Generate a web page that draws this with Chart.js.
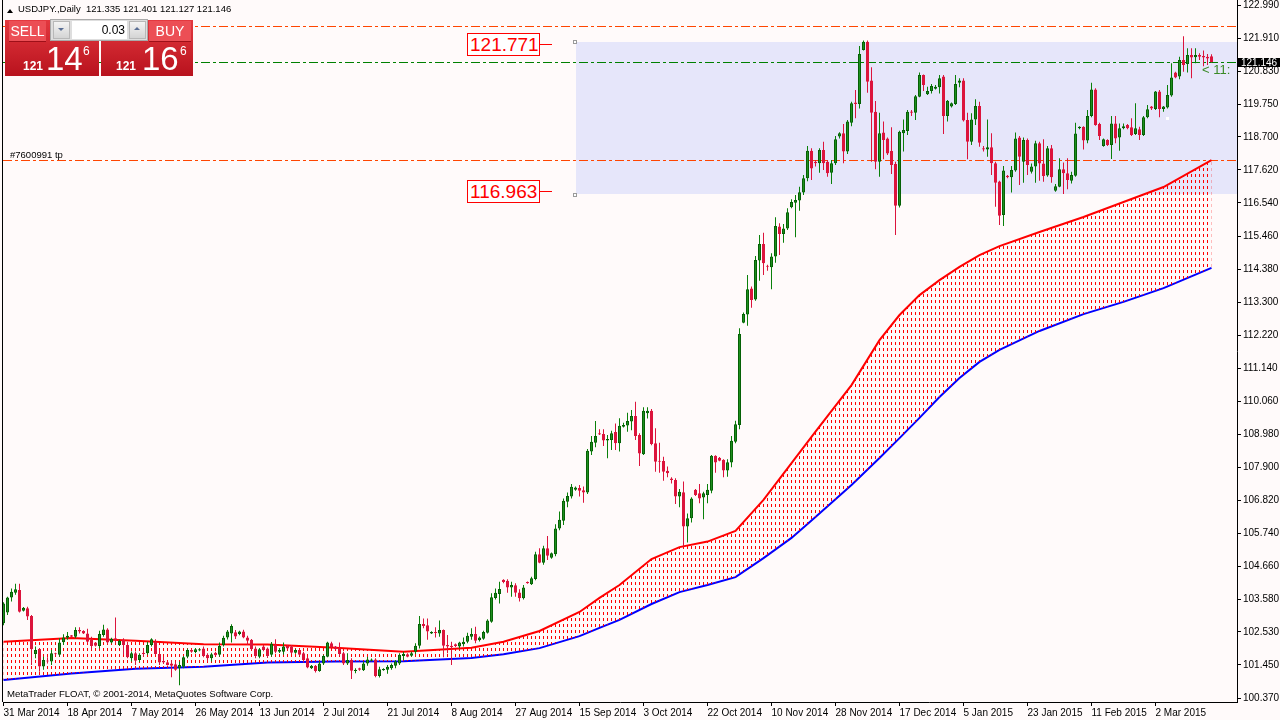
<!DOCTYPE html>
<html>
<head>
<meta charset="utf-8">
<title>USDJPY Daily</title>
<script src="https://cdn.jsdelivr.net/npm/chart.js@4.4.1/dist/chart.umd.min.js"></script>
<style>
  html, body { margin: 0; padding: 0; background: #fffafa; }
  #wrap { position: relative; width: 1280px; height: 720px; overflow: hidden; font-family: "Liberation Sans", Arial, sans-serif; }
  #chart { position: absolute; left: 0; top: 0; }
  .ov { position: absolute; white-space: nowrap; line-height: 1; }
  .tri { width: 0; height: 0; border-left: 3px solid transparent; border-right: 3px solid transparent; border-bottom: 4px solid #000; }
  .blk { background: linear-gradient(#e3383f, #b8121d); }
  .btn { background: #ec4e55; color: #fff; font-size: 14px; text-align: center; line-height: 20px; border-bottom: 1px solid #9e0f18; }
  .lot { background: #dedede; border: 1px solid #a9a9a9; }
  .arr { background: linear-gradient(#f4f4f4, #d4d4d4); border: 1px solid #b8b8b8; }
  .field { background: #fff; font-size: 12px; text-align: right; line-height: 18px; color: #000; }
  .pbig { color: #fff; font-size: 33px; }
  .psmall { color: #fff; font-size: 12px; font-weight: bold; }
  .psup { color: #fff; font-size: 12px; }
  .lvl { border: 1px solid #ff0000; background: #fff; color: #ff0000; font-size: 19px; line-height: 21px; height: 21px; width: 69px; padding-left: 2px; }
  .tick { background: #ff0000; height: 1px; width: 12px; }
  .anchor { width: 2px; height: 2px; border: 1px solid #9a9a9a; background: #fff; }
</style>
</head>
<body>
<div id="wrap">
  <canvas id="chart" width="1280" height="720"></canvas>

  <!-- header -->
  <div class="ov tri" style="left:7px;top:9px;"></div>
  <div class="ov" style="left:18px;top:4px;font-size:9.5px;color:#000;">USDJPY.,Daily&nbsp; 121.335 121.401 121.127 121.146</div>

  <!-- one click trading panel -->
  <div class="ov blk" style="left:5px;top:20px;width:94px;height:56px;"></div>
  <div class="ov blk" style="left:101px;top:20px;width:92px;height:56px;"></div>
  <div class="ov btn" style="left:9px;top:21px;width:37px;height:20px;">SELL</div>
  <div class="ov btn" style="left:149px;top:21px;width:42px;height:20px;">BUY</div>
  <div class="ov lot" style="left:50px;top:19px;width:96px;height:20px;"></div>
  <div class="ov arr" style="left:53px;top:21px;width:15px;height:16px;"></div>
  <div class="ov" style="left:58px;top:28px;width:0;height:0;border-left:3px solid transparent;border-right:3px solid transparent;border-top:3px solid #5a6e94;"></div>
  <div class="ov field" style="left:72px;top:21px;width:53px;height:18px;padding-right:2px;">0.03</div>
  <div class="ov arr" style="left:129px;top:21px;width:15px;height:16px;"></div>
  <div class="ov" style="left:134px;top:27px;width:0;height:0;border-left:3px solid transparent;border-right:3px solid transparent;border-bottom:3px solid #5a6e94;"></div>
  <div class="ov psmall" style="left:23px;top:60px;">121</div>
  <div class="ov pbig" style="left:46px;top:42px;">14</div>
  <div class="ov psup" style="left:83px;top:45px;">6</div>
  <div class="ov psmall" style="left:116px;top:60px;">121</div>
  <div class="ov pbig" style="left:142px;top:42px;">16</div>
  <div class="ov psup" style="left:180px;top:45px;">6</div>

  <!-- objects -->
  <div class="ov" style="left:10px;top:150px;font-size:9.5px;color:#000;">#7600991 tp</div>
  <div class="ov lvl" style="left:467px;top:33px;">121.771</div>
  <div class="ov tick" style="left:540px;top:44px;"></div>
  <div class="ov lvl" style="left:467px;top:180px;">116.963</div>
  <div class="ov tick" style="left:540px;top:191px;"></div>
  <div class="ov anchor" style="left:573px;top:40px;"></div>
  <div class="ov anchor" style="left:573px;top:193px;"></div>
  <div class="ov" style="left:1166px;top:117px;width:3px;height:3px;background:#fff;"></div>

  <!-- right side -->
  <div class="ov" style="left:1202px;top:63px;width:35px;overflow:hidden;font-size:13px;color:#3a8a26;">&lt; 11:</div>
  <div class="ov" style="left:1238px;top:58px;width:39px;height:9px;padding-left:3px;background:#000;color:#fff;font-size:10px;line-height:9px;">121.146</div>

  <!-- footer -->
  <div class="ov" style="left:7px;top:689px;font-size:9.6px;color:#000;">MetaTrader FLOAT, © 2001-2014, MetaQuotes Software Corp.</div>
</div>

<script>
// daily bars, 31 Mar 2014 .. mid Mar 2015 (broker has Sunday bars)
const opens = [
  102.81,103.16,103.65,103.81,103.90,103.22,103.30,103.05,101.81,101.97,
  101.40,101.59,101.56,101.83,101.78,102.19,102.34,102.42,102.37,102.59,
  102.56,102.48,102.27,102.18,102.07,102.43,102.61,102.18,102.32,102.10,
  102.27,102.10,101.67,101.83,101.61,101.85,101.83,102.10,102.21,101.81,
  101.58,101.54,101.50,101.47,101.34,101.39,101.72,101.94,101.87,101.92,
  101.99,101.78,101.67,101.85,101.78,102.10,102.35,102.48,102.52,102.46,
  102.54,102.35,102.27,101.99,101.72,102.05,101.99,101.78,102.10,101.88,
  101.88,102.07,102.05,101.85,101.94,101.83,101.67,101.34,101.42,101.25,
  101.50,101.72,102.16,102.05,101.99,101.83,101.50,101.61,101.25,101.34,
  101.28,101.50,101.59,101.63,101.09,101.28,101.29,101.34,101.42,101.50,
  101.74,101.80,101.75,101.88,102.08,102.79,102.75,102.48,102.53,102.48,
  102.59,102.10,102.08,102.13,102.05,102.13,102.21,102.37,102.46,102.26,
  102.31,102.50,102.86,103.64,103.77,104.23,104.20,103.98,104.05,103.82,
  103.63,104.16,104.09,104.26,105.07,104.79,105.26,104.95,105.07,105.91,
  106.16,106.78,106.95,107.17,107.23,107.16,107.08,108.42,108.71,109.02,
  108.99,108.78,108.80,109.06,108.69,109.23,109.27,109.40,109.58,108.96,
  108.33,109.67,109.75,108.69,108.11,108.11,107.79,107.54,107.49,106.95,
  107.09,105.97,106.24,107.17,107.06,106.92,107.00,107.14,108.28,108.22,
  108.15,107.80,108.06,108.74,109.29,112.63,112.90,113.75,113.39,114.66,
  115.20,114.48,114.44,114.79,115.77,115.53,115.71,116.40,116.55,116.62,
  116.88,117.35,118.25,117.89,117.84,118.27,117.89,117.53,117.84,118.71,
  118.82,118.22,119.16,119.82,119.77,121.54,121.81,120.54,119.52,117.89,
  118.84,118.65,118.24,117.81,116.45,118.82,118.89,119.53,119.49,120.01,
  120.72,120.09,120.20,120.27,120.32,120.67,119.38,119.69,119.77,120.47,
  120.54,119.25,118.54,119.27,119.71,118.33,118.29,118.36,117.84,117.24,
  116.15,117.43,117.38,117.60,118.68,117.89,118.60,117.56,117.73,118.49,
  117.83,117.44,118.33,116.94,117.07,117.64,117.51,117.27,117.43,118.98,
  119.03,118.58,119.38,120.25,119.12,118.40,118.60,118.43,119.14,118.68,
  118.98,119.09,119.01,118.79,118.95,118.76,119.34,119.69,119.61,120.18,
  119.61,119.66,120.05,120.80,120.67,121.21,121.08,121.37,121.30,121.37,
  121.34,121.32,121.335
];
const highs = [
  103.50,103.68,103.95,104.10,104.10,103.34,103.35,103.08,102.05,101.99,
  101.72,101.70,101.94,101.85,102.32,102.45,102.53,102.43,102.68,102.68,
  102.58,102.63,102.37,102.20,102.57,102.76,102.65,102.34,103.00,102.28,
  102.32,102.21,101.89,101.89,101.83,101.99,102.21,102.32,102.29,101.94,
  101.72,101.56,101.61,101.56,101.56,101.74,101.99,101.96,102.00,101.99,
  102.05,101.83,101.85,101.88,102.18,102.40,102.59,102.78,102.59,102.57,
  102.60,102.40,102.30,102.05,102.00,102.10,102.02,102.20,102.29,102.00,
  102.18,102.10,102.10,101.97,101.96,101.88,101.72,101.45,101.45,101.56,
  101.78,102.21,102.21,102.07,102.18,101.88,101.83,101.67,101.34,101.36,
  101.56,101.72,101.66,101.67,101.39,101.34,101.45,101.50,101.61,101.83,
  101.88,101.83,101.88,102.16,103.05,102.97,102.97,102.55,102.68,102.90,
  102.61,102.43,102.21,102.15,102.21,102.35,102.50,102.65,102.70,102.38,
  102.57,102.94,103.79,103.95,104.17,104.25,104.25,104.17,104.12,103.92,
  104.06,104.18,104.33,105.15,105.26,105.34,105.66,105.12,106.05,106.46,
  106.89,107.08,107.36,107.28,107.33,107.28,108.50,108.93,109.42,109.15,
  109.15,108.96,109.10,109.34,109.51,109.36,109.69,109.78,110.05,109.02,
  109.87,109.87,109.81,109.18,108.71,108.25,107.93,107.58,107.55,107.20,
  107.44,106.40,106.93,107.20,107.36,107.11,107.36,108.31,108.30,108.24,
  108.17,108.17,108.93,109.43,112.45,112.96,114.19,113.81,114.81,115.49,
  115.57,114.52,114.90,116.07,115.88,115.85,116.37,116.66,116.80,117.07,
  117.45,118.40,118.33,117.94,118.33,118.54,117.94,117.94,118.73,118.85,
  119.12,119.25,119.85,120.23,121.67,121.85,121.85,120.97,119.87,119.49,
  119.20,118.68,119.01,117.89,118.90,119.27,119.58,119.58,120.07,120.80,
  120.74,120.34,120.43,120.39,120.72,120.72,119.90,119.82,120.72,120.61,
  120.61,119.49,119.47,119.93,119.85,118.40,119.27,118.82,117.89,117.27,
  117.75,117.45,117.75,118.84,118.73,118.68,118.65,117.83,118.57,118.54,
  118.62,118.40,118.43,117.16,118.00,117.86,118.00,117.56,119.16,119.05,
  119.05,119.58,120.47,120.29,119.16,118.65,118.62,119.38,119.38,119.14,
  119.14,119.12,119.31,119.80,119.03,119.38,119.74,119.71,120.20,120.23,
  119.71,120.39,121.10,120.83,121.32,121.99,121.59,121.59,121.59,121.43,
  121.52,121.41,121.401
];
const lows = [
  102.75,103.08,103.52,103.74,103.16,103.20,102.92,101.45,101.67,101.23,
  101.29,101.50,101.45,101.75,101.72,102.10,102.27,102.35,102.32,102.48,
  102.46,102.16,101.94,102.05,101.99,102.37,102.13,102.15,102.16,102.07,
  101.78,101.67,101.56,101.45,101.55,101.72,101.78,102.05,101.78,101.45,
  101.48,101.43,101.05,101.26,100.79,101.34,101.67,101.85,101.83,101.90,
  101.70,101.56,101.56,101.74,101.72,102.05,102.28,102.18,102.30,102.42,
  102.32,102.10,101.93,101.67,101.67,101.90,101.68,101.72,101.83,101.84,
  101.78,101.96,101.81,101.82,101.74,101.53,101.34,101.32,101.20,101.23,
  101.45,101.70,102.00,101.93,101.74,101.45,101.45,100.99,101.18,101.26,
  101.25,101.42,101.57,101.05,101.04,101.26,101.16,101.29,101.34,101.45,
  101.61,101.70,101.72,101.81,101.99,102.65,102.27,102.46,102.35,102.37,
  101.70,101.83,101.45,102.04,101.99,102.05,102.16,102.27,102.16,102.22,
  102.27,102.48,102.83,103.59,103.46,104.12,103.81,103.68,103.68,103.52,
  103.59,104.10,104.06,104.22,104.77,104.72,104.88,104.92,105.00,105.85,
  106.02,106.60,106.89,107.14,106.95,106.75,107.03,108.31,108.56,108.96,
  108.60,108.20,108.47,108.47,108.42,109.21,109.07,109.12,108.80,107.95,
  108.31,109.50,108.63,107.76,107.73,107.47,107.58,107.38,106.71,106.60,
  105.31,105.45,106.10,106.97,106.73,106.21,106.73,107.06,107.73,108.10,
  107.58,107.60,107.91,108.69,109.15,112.61,112.53,113.12,113.35,114.00,
  114.19,114.33,113.72,114.59,114.84,115.24,115.66,116.37,115.42,116.29,
  116.80,117.25,117.29,117.73,117.53,117.62,117.40,117.16,117.78,118.65,
  117.84,118.14,119.05,119.31,119.63,121.52,120.14,117.89,117.64,117.40,
  117.97,118.11,117.49,115.49,116.39,118.22,118.76,119.38,119.25,119.99,
  120.20,120.07,120.12,120.25,120.12,118.79,119.20,119.66,119.74,120.32,
  119.20,117.97,118.43,119.09,118.38,118.22,118.05,117.45,116.42,115.82,
  115.79,117.35,116.88,117.56,117.13,117.20,117.45,117.50,117.20,117.27,
  117.23,117.40,117.20,116.91,117.05,116.83,116.99,117.18,117.40,118.95,
  118.29,118.49,119.34,119.06,118.60,118.38,118.40,117.98,118.49,118.25,
  118.95,118.95,118.73,118.76,118.60,118.73,119.31,119.58,119.58,119.34,
  119.52,119.63,120.01,120.61,120.58,120.83,120.80,120.61,121.10,121.21,
  121.01,121.05,121.127
];
const closes = [
  103.46,103.65,103.84,103.92,103.19,103.32,103.03,101.96,101.94,101.40,
  101.61,101.56,101.83,101.80,102.18,102.35,102.40,102.37,102.59,102.54,
  102.48,102.21,102.07,102.08,102.46,102.61,102.18,102.30,102.27,102.24,
  102.10,101.70,101.83,101.59,101.78,101.81,102.10,102.29,101.81,101.53,
  101.53,101.45,101.42,101.29,101.45,101.70,101.94,101.88,101.96,101.96,
  101.74,101.67,101.80,101.77,102.07,102.34,102.54,102.72,102.38,102.54,
  102.35,102.24,101.96,101.74,101.96,101.94,101.74,102.14,101.88,101.94,
  102.05,101.99,101.85,101.94,101.78,101.61,101.37,101.42,101.25,101.50,
  101.74,102.18,102.03,101.96,101.81,101.50,101.61,101.26,101.29,101.29,
  101.50,101.63,101.63,101.09,101.31,101.32,101.39,101.45,101.56,101.78,
  101.81,101.72,101.83,102.08,102.79,102.72,102.54,102.53,102.49,102.59,
  102.08,102.05,102.03,102.07,102.18,102.21,102.40,102.46,102.24,102.35,
  102.53,102.90,103.66,103.81,103.93,104.16,103.98,104.06,103.81,103.63,
  103.98,104.12,104.28,105.07,104.79,105.26,105.02,105.10,105.91,106.19,
  106.81,106.97,107.27,107.25,107.14,107.08,108.45,108.74,108.93,108.98,
  108.78,108.83,109.02,108.69,109.26,109.29,109.42,109.58,108.93,108.36,
  109.75,109.75,108.67,108.09,108.09,107.76,107.71,107.49,106.95,107.11,
  105.97,106.24,106.89,107.00,106.89,107.06,107.17,108.28,108.06,108.12,
  107.80,108.07,108.77,109.31,112.26,112.91,113.72,113.37,114.68,115.20,
  114.57,114.46,114.79,115.79,115.53,115.71,116.24,116.57,116.64,116.89,
  117.35,118.25,117.67,117.84,118.27,117.84,117.51,117.84,118.62,118.82,
  118.22,119.20,119.80,119.77,121.41,121.81,120.50,119.49,117.89,118.82,
  118.60,118.16,117.78,116.45,118.87,118.92,119.52,119.49,120.03,120.72,
  120.39,120.20,120.36,120.34,120.61,119.38,119.88,119.80,120.43,120.54,
  119.23,118.54,119.27,119.71,118.51,118.29,118.36,117.84,117.20,116.12,
  117.60,117.38,117.62,118.65,118.05,118.60,117.78,117.73,118.49,117.83,
  117.42,118.33,117.38,117.09,117.64,117.51,117.29,117.45,118.81,119.03,
  118.58,119.38,120.25,119.09,118.73,118.62,118.43,119.14,118.65,118.98,
  119.05,118.98,118.76,118.98,118.76,119.34,119.60,119.63,120.18,119.61,
  119.69,120.07,120.64,120.64,121.21,121.05,121.37,121.29,121.37,121.32,
  121.29,121.26,121.146
];

// moving averages, read at these bar numbers
const maBars = [0, 17, 33, 50, 66, 83, 100, 117, 125, 134, 144, 149, 154, 162, 169, 176, 183, 190, 197, 203, 212, 219, 224, 229, 234, 239, 244, 249, 259, 270, 280, 290, 302];
const redMA = [102.21, 102.33, 102.24, 102.13, 102.12, 102.01, 101.88, 102.01, 102.21, 102.56, 103.18, 103.64, 104.06, 104.91, 105.30, 105.48, 105.83, 106.84, 108.04, 109.07, 110.59, 112.06, 112.88, 113.53, 114.02, 114.45, 114.84, 115.13, 115.59, 116.08, 116.57, 117.06, 117.94];
const blueMA = [100.96, 101.17, 101.33, 101.39, 101.53, 101.56, 101.57, 101.68, 101.80, 102.00, 102.39, 102.66, 102.92, 103.44, 103.83, 104.06, 104.32, 104.94, 105.60, 106.28, 107.33, 108.21, 108.86, 109.52, 110.20, 110.82, 111.35, 111.74, 112.36, 112.91, 113.31, 113.76, 114.42];

// axes
const priceTicks = [122.99, 121.91, 120.83, 119.75, 118.70, 117.62, 116.54, 115.46, 114.38, 113.30, 112.22, 111.14, 110.06, 108.98, 107.90, 106.82, 105.74, 104.66, 103.58, 102.53, 101.45, 100.37];
const dateBars = [0, 16, 32, 48, 64, 80, 96, 112, 128, 144, 160, 176, 192, 208, 224, 240, 256, 272, 288];
const dateLabels = ['31 Mar 2014', '18 Apr 2014', '7 May 2014', '26 May 2014', '13 Jun 2014', '2 Jul 2014', '21 Jul 2014', '8 Aug 2014', '27 Aug 2014', '15 Sep 2014', '3 Oct 2014', '22 Oct 2014', '10 Nov 2014', '28 Nov 2014', '17 Dec 2014', '5 Jan 2015', '23 Jan 2015', '11 Feb 2015', '2 Mar 2015'];

// objects on the chart (prices)
const zoneTop = 121.80;
const zoneBottom = 116.82;
const zoneStartBar = 143;
const levelLines = [
  { price: 122.337, color: '#ff4500' },
  { price: 117.944, color: '#ff4500' },
  { price: 121.146, color: '#008000' }
];

const bullBody = '#1e8f1e', bullEdge = '#056005', bullWick = '#0a800a';
const bearBody = '#dc143c', bearWick = '#dc143c';

const isBull = closes.map((c, i) => c >= opens[i]);

// red dashed hatch between the averages, one column per bar
const patCanvas = document.createElement('canvas');
patCanvas.width = 4;
patCanvas.height = 6;
const pctx = patCanvas.getContext('2d');
pctx.fillStyle = '#ff0000';
pctx.fillRect(3, 0, 1, 3);
const hatch = pctx.createPattern(patCanvas, 'repeat');

const objectsPlugin = {
  id: 'objects',
  beforeDatasetsDraw(chart) {
    const { ctx, chartArea: a, scales: { x, y } } = chart;
    ctx.save();
    ctx.beginPath();
    ctx.rect(a.left, a.top, a.right - a.left, a.bottom - a.top);
    ctx.clip();
    const zx = x.getPixelForValue(zoneStartBar);
    const zt = Math.round(y.getPixelForValue(zoneTop));
    const zb = Math.round(y.getPixelForValue(zoneBottom));
    ctx.fillStyle = '#e6e6fa';
    ctx.fillRect(Math.round(zx), zt, a.right - Math.round(zx), zb - zt);
    levelLines.forEach((l) => {
      const py = Math.round(y.getPixelForValue(l.price)) + 0.5;
      ctx.strokeStyle = l.color;
      ctx.lineWidth = 1;
      ctx.setLineDash([9, 3, 3, 3]);
      ctx.beginPath();
      ctx.moveTo(a.left, py);
      ctx.lineTo(a.right, py);
      ctx.stroke();
    });
    ctx.restore();
  },
  afterDraw(chart) {
    const { ctx, chartArea: a } = chart;
    ctx.save();
    ctx.strokeStyle = '#000';
    ctx.lineWidth = 1;
    ctx.beginPath();
    ctx.moveTo(2.5, 0);
    ctx.lineTo(2.5, a.bottom);
    ctx.stroke();
    ctx.restore();
  }
};

new Chart(document.getElementById('chart'), {
  type: 'bar',
  data: {
    datasets: [
      {
        label: 'body',
        data: opens.map((o, i) => ({ x: i, y: [o, closes[i]] })),
        backgroundColor: isBull.map((b) => (b ? bullBody : bearBody)),
        borderColor: isBull.map((b) => (b ? bullEdge : bearBody)),
        borderWidth: 1,
        borderSkipped: false,
        barThickness: 3,
        maxBarThickness: 3,
        minBarLength: 1,
        inflateAmount: 0,
        grouped: false,
        order: 0
      },
      {
        label: 'wick',
        data: lows.map((l, i) => ({ x: i, y: [l, highs[i]] })),
        backgroundColor: isBull.map((b) => (b ? bullWick : bearWick)),
        borderWidth: 0,
        barThickness: 1,
        maxBarThickness: 1,
        inflateAmount: 0,
        grouped: false,
        order: 1
      },
      {
        type: 'line',
        label: 'MA red',
        data: maBars.map((b, i) => ({ x: b, y: redMA[i] })),
        borderColor: '#ff0000',
        borderWidth: 2,
        backgroundColor: hatch,
        fill: '+1',
        pointRadius: 0,
        tension: 0,
        order: 2
      },
      {
        type: 'line',
        label: 'MA blue',
        data: maBars.map((b, i) => ({ x: b, y: blueMA[i] })),
        borderColor: '#0000ff',
        borderWidth: 2,
        fill: false,
        pointRadius: 0,
        tension: 0,
        order: 3
      }
    ]
  },
  options: {
    responsive: false,
    animation: false,
    events: [],
    layout: { padding: { left: 3, right: 0, top: 0, bottom: 0 } },
    plugins: {
      legend: { display: false },
      tooltip: { enabled: false }
    },
    scales: {
      x: {
        type: 'linear',
        min: -0.125,
        max: 308.375,
        bounds: 'data',
        offset: false,
        grid: { drawOnChartArea: false, drawTicks: true, tickLength: 4, color: '#000', offset: false },
        border: { display: true, color: '#000' },
        ticks: {
          autoSkip: false,
          maxRotation: 0,
          minRotation: 0,
          align: 'start',
          padding: 1,
          color: '#000',
          font: { family: 'Liberation Sans', size: 10 },
          callback: (v, i) => dateLabels[i]
        },
        afterBuildTicks: (axis) => {
          axis.ticks = dateBars.map((b) => ({ value: b }));
        },
        afterFit: (axis) => {
          axis.height = 18;
          axis.paddingLeft = 0;
          axis.paddingRight = 0;
        }
      },
      y: {
        type: 'linear',
        position: 'right',
        min: 100.24,
        max: 123.17,
        bounds: 'data',
        beginAtZero: false,
        grid: { drawOnChartArea: false, drawTicks: true, tickLength: 4, color: '#000' },
        border: { display: true, color: '#000' },
        ticks: {
          autoSkip: false,
          padding: 2,
          color: '#000',
          font: { family: 'Liberation Sans', size: 10 },
          callback: (v) => Number(v).toFixed(3)
        },
        afterBuildTicks: (axis) => {
          axis.ticks = priceTicks.map((p) => ({ value: p }));
        },
        afterFit: (axis) => {
          axis.width = 43;
          axis.paddingTop = 0;
          axis.paddingBottom = 0;
        }
      }
    }
  },
  plugins: [objectsPlugin]
});
</script>
</body>
</html>
